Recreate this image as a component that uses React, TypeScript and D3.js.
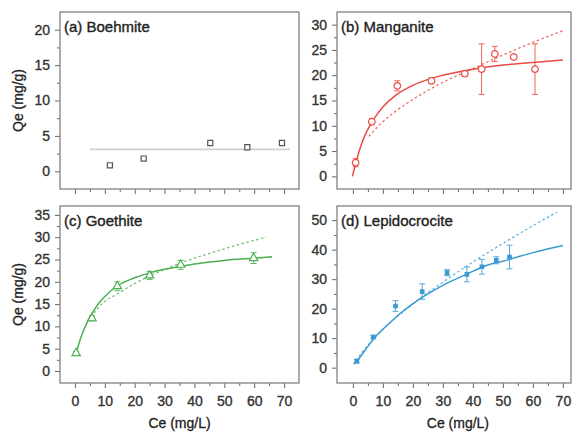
import React, { useRef, useEffect } from "react";
import * as d3 from "d3";

// (a) Boehmite
const boeCe = [11.7, 23.0, 45.3, 57.7, 69.3];
const boeQe = [0.85, 1.8, 4.0, 3.4, 4.0];
const boeFitCe = [5, 72];
const boeFitQe = [3.1, 3.1];

// (b) Manganite
const manCe = [0.9, 6.3, 14.8, 26.2, 37.3, 42.9, 47.3, 53.6, 60.7];
const manQe = [2.7, 10.8, 17.9, 18.9, 20.3, 21.2, 24.2, 23.6, 21.2];
const manErr = [0.8, 0.6, 1.0, 0.6, 0.5, 5.0, 1.5, 0.4, 5.0];
const manLangCe = [-0.2, 1, 2, 4, 6, 8, 10, 14, 20, 30, 40, 50, 60, 70];
const manLangQe = [0, 2.6, 4.8, 8.1, 10.4, 12.2, 13.7, 15.9, 18.0, 20.0, 21.2, 22.0, 22.5, 23.0];
const manFreuCe = [5.3, 10, 15, 20, 30, 40, 50, 60, 70];
const manFreuQe = [7.9, 10.8, 13.2, 15.2, 18.6, 21.3, 24.0, 26.5, 28.8];

// (c) Goethite
const goeCe = [0.4, 5.7, 14.2, 25.0, 35.4, 59.8];
const goeQe = [4.0, 11.8, 19.0, 21.4, 23.8, 25.3];
const goeErr = [0.4, 0.6, 1.0, 0.9, 1.0, 1.2];
const goeLangCe = [0.4, 2, 4, 6, 8, 10, 14, 20, 25, 30, 35, 40, 50, 60, 66];
const goeLangQe = [4.0, 7.5, 10.8, 13.2, 15.2, 16.7, 19.0, 20.9, 22.0, 22.8, 23.4, 24.0, 24.8, 25.3, 25.6];
const goeFreuCe = [5.3, 10, 14, 20, 25, 35, 50, 64];
const goeFreuQe = [12.1, 15.6, 17.2, 19.6, 21.3, 24.1, 27.4, 30.0];

// (d) Lepidocrocite
const lepCe = [1.3, 6.8, 14.2, 23.1, 31.4, 38.0, 43.0, 47.8, 52.2];
const lepQe = [2.2, 10.4, 20.9, 25.8, 32.2, 31.6, 34.2, 36.4, 37.5];
const lepErr = [0.6, 0.6, 1.8, 2.6, 1.0, 2.5, 2.5, 1.2, 4.0];
const lepLangCe = [0.3, 2, 5, 7, 10, 15, 20, 25, 30, 38, 45, 50, 60, 70];
const lepLangQe = [1.2, 3.1, 7.2, 9.9, 13.0, 17.7, 21.7, 25.0, 27.9, 31.7, 34.8, 36.1, 39.0, 41.4];
const lepFreuCe = [1, 5, 10, 15, 20, 30, 40, 50, 60, 68];
const lepFreuQe = [2.4, 7.6, 13.0, 17.5, 21.6, 29.0, 35.8, 42.1, 48.1, 52.7];

const zip = (xs: number[], ys: number[]) => xs.map((x, i) => [x, ys[i]] as [number, number]);

const panels = [
  {
    title: "(a) Boehmite", color: "#555", marker: "square",
    left: 60, right: 299, top: 12, bottom: 189,
    xDomain: [-5, 75], yDomain: [-2.5, 22.5], yStep: 5, xLabels: false, yTitle: true,
    pts: zip(boeCe, boeQe), err: null,
    solid: zip(boeFitCe, boeFitQe), dashed: null, lineColor: "#cfcfcf",
  },
  {
    title: "(b) Manganite", color: "#ec4a42", marker: "circle",
    left: 337, right: 571, top: 12, bottom: 189,
    xDomain: [-5.3, 72.7], yDomain: [-2.5, 32.5], yStep: 5, xLabels: false, yTitle: false,
    pts: zip(manCe, manQe), err: manErr,
    solid: zip(manLangCe, manLangQe), dashed: zip(manFreuCe, manFreuQe), lineColor: "#ec4a42",
  },
  {
    title: "(c) Goethite", color: "#4caf50", marker: "triangle",
    left: 60, right: 299, top: 206, bottom: 383,
    xDomain: [-5, 75], yDomain: [-2.7, 37], yStep: 5, xLabels: true, yTitle: true,
    pts: zip(goeCe, goeQe), err: goeErr,
    solid: zip(goeLangCe, goeLangQe), dashed: zip(goeFreuCe, goeFreuQe), lineColor: "#4caf50",
  },
  {
    title: "(d) Lepidocrocite", color: "#3b9bd1", marker: "small",
    left: 337, right: 571, top: 206, bottom: 383,
    xDomain: [-5.3, 72.7], yDomain: [-5.2, 54.8], yStep: 10, xLabels: true, yTitle: false,
    pts: zip(lepCe, lepQe), err: lepErr,
    solid: zip(lepLangCe, lepLangQe), dashed: zip(lepFreuCe, lepFreuQe), lineColor: "#3b9bd1",
  },
];

const FONT = "'Liberation Sans', Arial, sans-serif";

const App = () => {
  const svgRef = useRef<SVGSVGElement>(null);

  useEffect(() => {
    const svg = d3.select(svgRef.current);
    svg.selectAll("*").remove();

    panels.forEach((p) => {
      const x = d3.scaleLinear().domain(p.xDomain).range([p.left, p.right]);
      const y = d3.scaleLinear().domain(p.yDomain).range([p.bottom, p.top]);
      const g = svg.append("g");

      // y axis: major + minor ticks
      const yMajor = d3.range(0, p.yDomain[1] + 0.01, p.yStep);
      const yMinor = d3.range(p.yStep / 2, p.yDomain[1], p.yStep);
      g.append("g").attr("transform", `translate(${p.left},0)`)
        .call(d3.axisLeft(y).tickValues(yMajor).tickSize(5).tickPadding(5));
      g.append("g").attr("transform", `translate(${p.left},0)`)
        .call(d3.axisLeft(y).tickValues(yMinor).tickSize(3).tickFormat(() => ""));

      // x axis
      const xMajor = d3.range(0, 71, 10);
      const xMinor = d3.range(5, 76, 10).filter((v) => v < p.xDomain[1]);
      g.append("g").attr("transform", `translate(0,${p.bottom})`)
        .call(d3.axisBottom(x).tickValues(xMajor).tickSize(5).tickPadding(8)
          .tickFormat((d) => (p.xLabels ? String(d) : "")));
      g.append("g").attr("transform", `translate(0,${p.bottom})`)
        .call(d3.axisBottom(x).tickValues(xMinor).tickSize(3).tickFormat(() => ""));

      g.selectAll(".domain").remove();
      g.selectAll(".tick line").attr("stroke", "#666").attr("stroke-width", 1);
      g.selectAll(".tick text")
        .attr("fill", "#333").attr("stroke", "#333").attr("stroke-width", 0.35)
        .style("font-family", FONT).style("font-size", "14px");

      // frame
      g.append("rect")
        .attr("x", p.left).attr("y", p.top)
        .attr("width", p.right - p.left).attr("height", p.bottom - p.top)
        .attr("fill", "none").attr("stroke", "#8a8a8a").attr("stroke-width", 1.4);

      const line = d3.line<[number, number]>()
        .x((d) => x(d[0])).y((d) => y(d[1]))
        .curve(d3.curveMonotoneX);

      if (p.dashed) {
        g.append("path").attr("d", line(p.dashed))
          .attr("fill", "none").attr("stroke", p.lineColor)
          .attr("stroke-width", 1.3).attr("stroke-dasharray", "2.5,2.5")
          .attr("opacity", 0.8);
      }
      g.append("path").attr("d", line(p.solid))
        .attr("fill", "none").attr("stroke", p.lineColor)
        .attr("stroke-width", p.marker === "square" ? 1.6 : 1.5);

      // error bars
      if (p.err) {
        p.pts.forEach((d, i) => {
          const e = p.err![i];
          const cx = x(d[0]);
          const eg = g.append("g").attr("stroke", p.color).attr("stroke-width", 1).attr("opacity", 0.85);
          eg.append("line").attr("x1", cx).attr("x2", cx).attr("y1", y(d[1] + e)).attr("y2", y(d[1] - e));
          eg.append("line").attr("x1", cx - 3).attr("x2", cx + 3).attr("y1", y(d[1] + e)).attr("y2", y(d[1] + e));
          eg.append("line").attr("x1", cx - 3).attr("x2", cx + 3).attr("y1", y(d[1] - e)).attr("y2", y(d[1] - e));
        });
      }

      // markers
      const symType =
        p.marker === "square" ? d3.symbolSquare :
        p.marker === "triangle" ? d3.symbolTriangle :
        p.marker === "small" ? d3.symbolSquare : d3.symbolCircle;
      const symSize = p.marker === "small" ? 12 : p.marker === "triangle" ? 30 : p.marker === "square" ? 26 : 34;
      g.selectAll("path.pt").data(p.pts).enter().append("path")
        .attr("class", "pt")
        .attr("d", d3.symbol().type(symType).size(symSize)())
        .attr("transform", (d) => `translate(${x(d[0])},${y(d[1])})`)
        .attr("fill", p.marker === "small" ? p.color : "#fff")
        .attr("stroke", p.color).attr("stroke-width", 1.2);

      // panel title
      g.append("text").attr("x", p.left + 4).attr("y", p.top + 20)
        .attr("fill", "#222").attr("stroke", "#222").attr("stroke-width", 0.35)
        .style("font-family", FONT).style("font-size", "15px")
        .text(p.title);

      if (p.yTitle) {
        g.append("text")
          .attr("transform", `translate(23,${(p.top + p.bottom) / 2}) rotate(-90)`)
          .attr("text-anchor", "middle").attr("fill", "#222")
          .attr("stroke", "#222").attr("stroke-width", 0.3)
          .style("font-family", FONT).style("font-size", "14px")
          .text("Qe (mg/g)");
      }
      if (p.xLabels) {
        g.append("text")
          .attr("x", x(35)).attr("y", 428)
          .attr("text-anchor", "middle").attr("fill", "#222")
          .attr("stroke", "#222").attr("stroke-width", 0.3)
          .style("font-family", FONT).style("font-size", "14px")
          .text("Ce (mg/L)");
      }
    });
  }, []);

  return (
    <svg ref={svgRef} width={577} height={433}
      style={{ position: "absolute", left: 0, top: 0, background: "#fff" }} />
  );
};

export default App;
